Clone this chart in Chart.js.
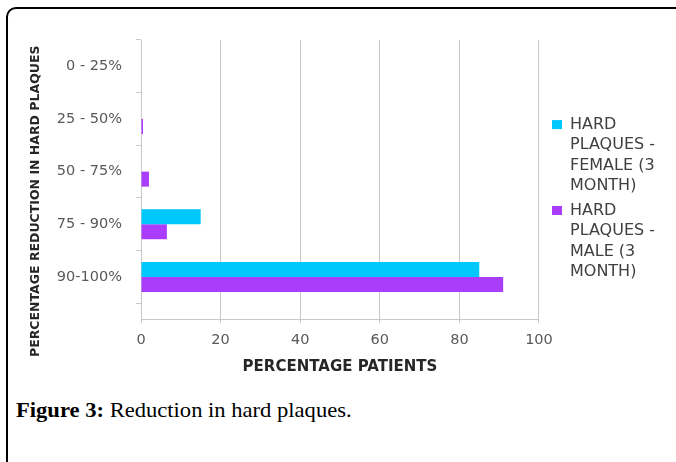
<!DOCTYPE html>
<html>
<head>
<meta charset="utf-8">
<script src="https://cdn.jsdelivr.net/npm/chart.js@4.4.0/dist/chart.umd.min.js"></script>
<style>
  body { margin: 0; background: #fff; width: 676px; height: 462px; overflow: hidden; position: relative; }
  #frame { position: absolute; left: 6px; top: 7px; width: 720px; height: 520px; border: 2px solid #000; border-top-left-radius: 10px; }
  #chart { position: absolute; left: 0; top: 0; }
  #caption { position: absolute; left: 16px; top: 400px; font-family: "Liberation Serif", serif; font-size: 21px; line-height: 20px; color: #000; transform: scaleX(1.075); transform-origin: left top; white-space: nowrap; }
</style>
</head>
<body>
<div id="frame"></div>
<canvas id="chart" width="676" height="380"></canvas>
<div id="caption"><b>Figure 3:</b> Reduction in hard plaques.</div>
<script>
var categories = ['0 - 25%', '25 - 50%', '50 - 75%', '75 - 90%', '90-100%'];
var femaleValues = [0, 0, 0, 15, 85];
var maleValues = [0, 0.5, 2, 6.5, 91];
var seriesNames = [
  ['HARD', 'PLAQUES -', 'FEMALE (3', 'MONTH)'],
  ['HARD', 'PLAQUES -', 'MALE (3', 'MONTH)']
];
var xTicks = [0, 20, 40, 60, 80, 100];

var gridColor = '#c8c8c8';
var tickColor = '#595959';

// bars sit in the middle of each category slot on a linear y scale
function toPoints(values) {
  return values.map(function(v, i) { return {x: v, y: i + 0.5}; });
}

// small nudge so the legend sits where the original one does
var legendShift = {
  id: 'legendShift',
  afterLayout: function(chart) {
    var lg = chart.legend;
    lg.left += 9; lg.right += 9;
    lg.top -= 8; lg.bottom -= 8;
  }
};

var ctx = document.getElementById('chart').getContext('2d');

var data = {
  datasets: [{
    label: seriesNames[0],
    backgroundColor: '#00c8fc',
    data: toPoints(femaleValues),
    categoryPercentage: 0.57,
    barPercentage: 1
  }, {
    label: seriesNames[1],
    backgroundColor: '#aa3cfc',
    data: toPoints(maleValues),
    categoryPercentage: 0.57,
    barPercentage: 1
  }]
};

var config = {
  type: 'bar',
  data: data,
  plugins: [legendShift],
  options: {
    indexAxis: 'y',
    responsive: false,
    animation: false,
    layout: {
      padding: {top: 40, left: 24.5, right: 20, bottom: 3}
    },
    plugins: {
      tooltip: {enabled: false},
      legend: {
        position: 'right',
        labels: {
          boxWidth: 10,
          boxHeight: 9,
          padding: 4,
          color: '#404040',
          font: {family: "'DejaVu Sans', sans-serif", size: 16, lineHeight: 1.28}
        }
      }
    },
    scales: {
      x: {
        type: 'linear',
        min: 0,
        max: 100,
        afterBuildTicks: function(scale) {
          scale.ticks = xTicks.map(function(v) { return {value: v}; });
        },
        afterFit: function(scale) {
          scale.height = 58;
        },
        grid: {color: gridColor, tickLength: 4},
        border: {color: gridColor},
        ticks: {
          color: tickColor,
          padding: 9,
          font: {family: "'DejaVu Sans', sans-serif", size: 14.5}
        },
        title: {
          display: true,
          text: 'PERCENTAGE PATIENTS',
          color: '#262626',
          padding: {top: 6, bottom: 1},
          font: {family: "'DejaVu Sans', sans-serif", size: 15, weight: 'bold'}
        }
      },
      y: {
        type: 'linear',
        reverse: true,
        offset: false,
        min: 0,
        max: 5.3,
        afterBuildTicks: function(scale) {
          scale.ticks = categories.map(function(c, i) { return {value: i + 0.5}; });
        },
        afterFit: function(scale) {
          scale.width = 141 - 24.5;
        },
        grid: {color: gridColor, offset: true, drawOnChartArea: false, tickLength: 5},
        border: {color: gridColor},
        ticks: {
          autoSkip: false,
          color: tickColor,
          padding: 14,
          font: {family: "'DejaVu Sans', sans-serif", size: 14.5},
          callback: function(value) { return categories[Math.floor(value)]; }
        },
        title: {
          display: true,
          // trailing spaces push the centred title a little lower, as in the original
          text: 'PERCENTAGE REDUCTION IN HARD PLAQUES          ',
          color: '#262626',
          padding: {top: 4, bottom: 4},
          font: {family: "'DejaVu Sans', sans-serif", size: 12.5, weight: 'bold'}
        }
      }
    }
  }
};

var myChart = new Chart(ctx, config);
</script>
</body>
</html>
